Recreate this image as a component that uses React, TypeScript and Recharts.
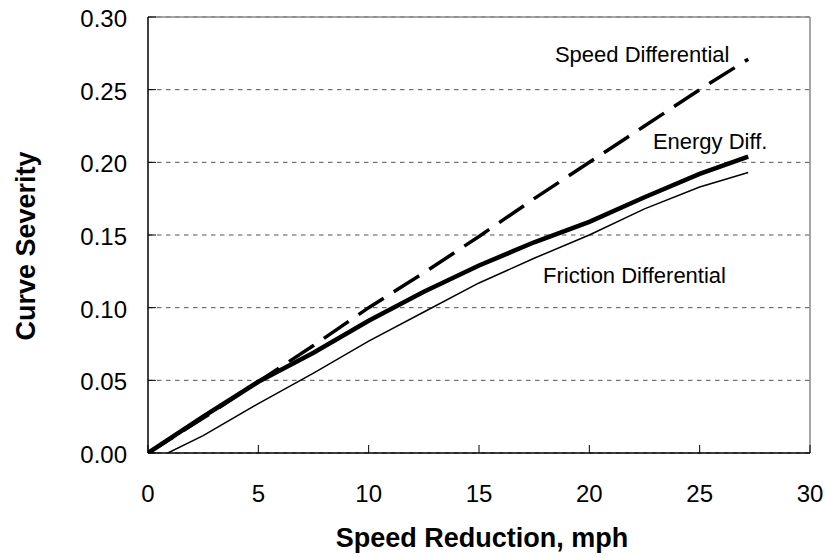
import * as React from 'react'
import { LineChart, Line, XAxis, YAxis, CartesianGrid, ReferenceLine, ReferenceDot } from 'recharts'

const FONT = '"Liberation Sans", Arial, sans-serif'

// speed reduction (mph) at which each curve was read
const reductionX = [0, 2.5, 5, 7.5, 10, 12.5, 15, 17.5, 20, 22.5, 25, 27.2]
const speedDiff = [0, 0.024, 0.049, 0.074, 0.1, 0.124, 0.149, 0.175, 0.2, 0.225, 0.25, 0.271]
const energyDiff = [0, 0.025, 0.049, 0.069, 0.091, 0.111, 0.129, 0.145, 0.159, 0.176, 0.192, 0.204]
const frictionX = [0.9, 2.5, 5, 7.5, 10, 12.5, 15, 17.5, 20, 22.5, 25, 27.2]
const frictionDiff = [0, 0.012, 0.034, 0.055, 0.077, 0.097, 0.117, 0.134, 0.15, 0.168, 0.183, 0.193]

const xTicks = [0, 5, 10, 15, 20, 25, 30]
const yTicks = [0, 0.05, 0.1, 0.15, 0.2, 0.25, 0.3]

// curve labels, placed in data units (start of text, baseline)
const curveLabels = [
  { text: 'Speed Differential', x: 18.44, y: 0.2689 },
  { text: 'Energy Diff.', x: 22.88, y: 0.2091 },
  { text: 'Friction Differential', x: 17.9, y: 0.1171 },
]

const zip = (xs: number[], ys: number[]) => xs.map((x, i) => ({ x, y: ys[i] }))

const speedData = zip(reductionX, speedDiff)
const energyData = zip(reductionX, energyDiff)
const frictionData = zip(frictionX, frictionDiff)

function XTick({ x, y, payload }: any) {
  return (
    <g>
      <line x1={x} x2={x} y1={y - 8} y2={y} stroke="#000" strokeWidth={1} />
      <text x={x} y={y + 49} textAnchor="middle" fontSize={24} fontFamily={FONT} fill="#000">
        {payload.value}
      </text>
    </g>
  )
}

function YTick({ x, y, payload }: any) {
  return (
    <g>
      <line x1={x} x2={x + 8} y1={y} y2={y} stroke="#000" strokeWidth={1} />
      <text x={x - 21} y={y + 10} textAnchor="end" fontSize={24} fontFamily={FONT} fill="#000">
        {Number(payload.value).toFixed(2)}
      </text>
    </g>
  )
}

function CurveLabel(text: string) {
  return (props: any) => (
    <text x={props.cx} y={props.cy} fontSize={22} fontFamily={FONT} fill="#000">
      {text}
    </text>
  )
}

export default function App() {
  return (
    <div style={{ position: 'absolute', left: 0, top: 0, width: 825, height: 558, background: '#fff' }}>
      <LineChart width={825} height={558} margin={{ top: 17, right: 15, bottom: 0, left: 0 }}>
        <CartesianGrid vertical={false} stroke="#555" strokeDasharray="4.5 4.5" />
        <XAxis
          type="number"
          dataKey="x"
          domain={[0, 30]}
          ticks={xTicks}
          height={105}
          tickSize={0}
          tickMargin={0}
          tick={<XTick />}
          stroke="#000"
          strokeWidth={1.5}
          allowDataOverflow
        />
        <YAxis
          type="number"
          dataKey="y"
          domain={[0, 0.3]}
          ticks={yTicks}
          width={148}
          tickSize={0}
          tickMargin={0}
          tick={<YTick />}
          stroke="#000"
          strokeWidth={1.5}
          allowDataOverflow
        />
        <ReferenceLine y={0.3} stroke="#888" strokeWidth={1.5} />
        <ReferenceLine x={30} stroke="#888" strokeWidth={1.5} />
        <Line data={frictionData} dataKey="y" type="linear" stroke="#000" strokeWidth={1.5} dot={false} isAnimationActive={false} />
        <Line data={energyData} dataKey="y" type="linear" stroke="#000" strokeWidth={4.5} dot={false} isAnimationActive={false} />
        <Line
          data={speedData}
          dataKey="y"
          type="linear"
          stroke="#000"
          strokeWidth={3.5}
          strokeDasharray="30 12"
          dot={false}
          isAnimationActive={false}
        />
        {curveLabels.map((l) => (
          <ReferenceDot key={l.text} x={l.x} y={l.y} r={0} shape={CurveLabel(l.text)} />
        ))}
      </LineChart>
      <svg width={825} height={558} style={{ position: 'absolute', left: 0, top: 0, pointerEvents: 'none' }}>
        <text
          x={482}
          y={547}
          textAnchor="middle"
          fontSize={27}
          fontWeight="bold"
          fontFamily={FONT}
          fill="#000"
        >
          Speed Reduction, mph
        </text>
        <text
          transform="translate(35,246) rotate(-90)"
          textAnchor="middle"
          fontSize={27}
          fontWeight="bold"
          fontFamily={FONT}
          fill="#000"
        >
          Curve Severity
        </text>
      </svg>
    </div>
  )
}
